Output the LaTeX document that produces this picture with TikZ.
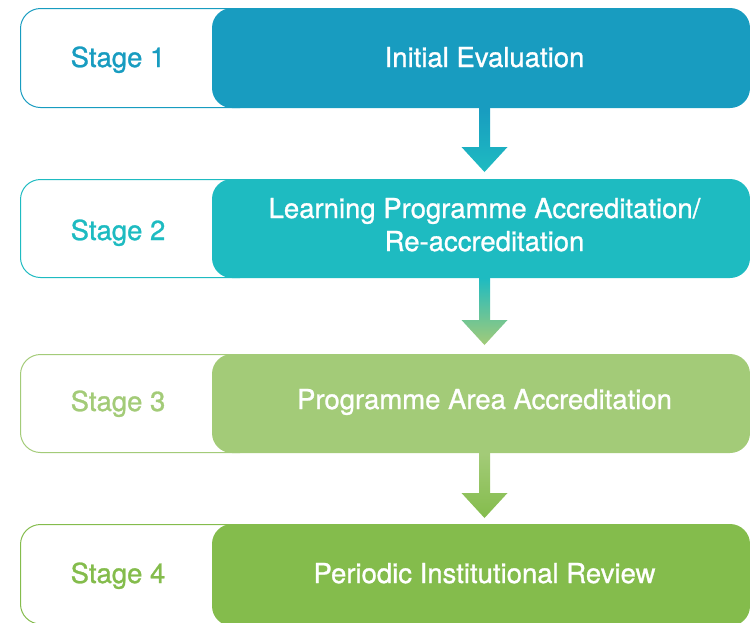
\documentclass[tikz,border=0pt]{standalone}
\usepackage{fontspec}
\setmainfont{TeX Gyre Heros}[FakeBold=1]
\usetikzlibrary{calc}
\definecolor{cA}{HTML}{189CC0}
\definecolor{cB}{HTML}{1EBBC1}
\definecolor{cC}{HTML}{A3CB78}
\definecolor{cD}{HTML}{84BC4C}
\begin{document}
\begin{tikzpicture}[x=1pt,y=-1pt,
  outl/.style={draw=#1, line width=1pt, rounded corners=20pt},
  filbox/.style={fill=#1, rounded corners=20pt},
  stagetxt/.style={text=#1, anchor=base, inner sep=0pt, font=\fontsize{27.5}{33}\selectfont},
  boxtxt/.style={text=white, anchor=base, inner sep=0pt, align=center, font=\fontsize{27.5}{33}\selectfont}]
\useasboundingbox (0,0) rectangle (750,622);
\clip (0,0) rectangle (750,622);
% Stage 1
\draw[outl=cA] (20.5,8.5) rectangle (260,107.5);
\fill[filbox=cA] (212,8) rectangle (750,108);
\node[stagetxt=cA] (s1) at (118,67) {Stage 1};
\node[boxtxt] (t1) at (484.5,67) {Initial Evaluation};
% Stage 2
\draw[outl=cB] (20.5,179.5) rectangle (260,277.5);
\fill[filbox=cB] (212,179) rectangle (750,278);
\node[stagetxt=cB] (s2) at (118,240) {Stage 2};
\node[boxtxt] (t2) at (484.5,218) {Learning Programme Accreditation/};
\node[boxtxt] (t2b) at (484.5,251) {Re-accreditation};
% Stage 3
\draw[outl=cC] (20.5,354.5) rectangle (260,452.5);
\fill[filbox=cC] (212,354) rectangle (750,453);
\node[stagetxt=cC] (s3) at (118,411) {Stage 3};
\node[boxtxt] (t3) at (484.5,409) {Programme Area Accreditation};
% Stage 4
\draw[outl=cD] (20.5,524.5) rectangle (260,624);
\fill[filbox=cD] (212,524) rectangle (750,626);
\node[stagetxt=cD] (s4) at (118,583) {Stage 4};
\node[boxtxt] (t4) at (484.5,583) {Periodic Institutional Review};
% arrows
\coordinate (a1s) at (484.5,108); \coordinate (a1e) at (484.5,172);
\coordinate (a2s) at (484.5,278); \coordinate (a2e) at (484.5,345);
\coordinate (a3s) at (484.5,453); \coordinate (a3e) at (484.5,518);
\shade[top color=cA, bottom color=cB]
  ($(a1s)+(-5.5,0)$) -- ($(a1s)+(5.5,0)$) -- ($(a1e)+(5.5,-25)$) -- ($(a1e)+(23,-25)$) -- (a1e) -- ($(a1e)+(-23,-25)$) -- ($(a1e)+(-5.5,-25)$) -- cycle;
\shade[top color=cB, bottom color=cC]
  ($(a2s)+(-5.5,0)$) -- ($(a2s)+(5.5,0)$) -- ($(a2e)+(5.5,-25)$) -- ($(a2e)+(23,-25)$) -- (a2e) -- ($(a2e)+(-23,-25)$) -- ($(a2e)+(-5.5,-25)$) -- cycle;
\shade[top color=cC, bottom color=cD]
  ($(a3s)+(-5.5,0)$) -- ($(a3s)+(5.5,0)$) -- ($(a3e)+(5.5,-25)$) -- ($(a3e)+(23,-25)$) -- (a3e) -- ($(a3e)+(-23,-25)$) -- ($(a3e)+(-5.5,-25)$) -- cycle;
\end{tikzpicture}
\end{document}
